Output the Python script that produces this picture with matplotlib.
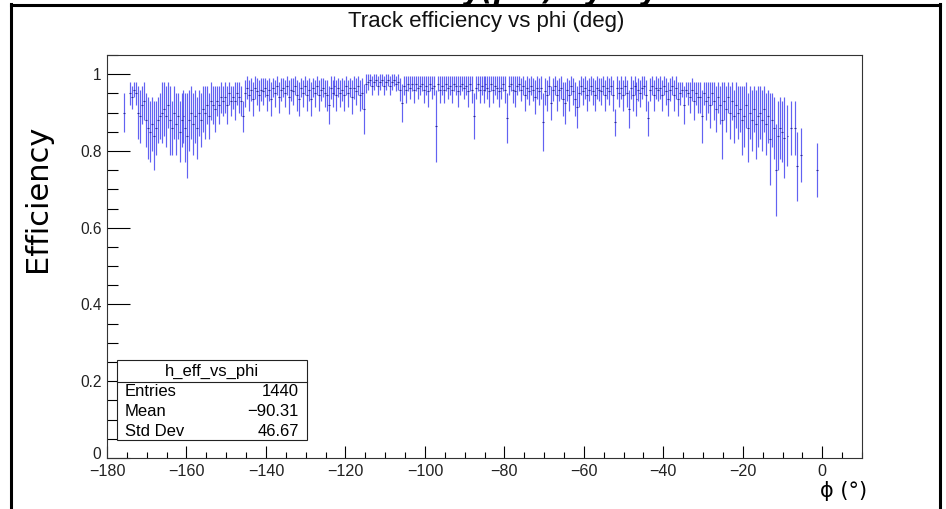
import numpy as np
import matplotlib
matplotlib.use("Agg")
import matplotlib.pyplot as plt
import matplotlib.transforms as mtransforms
from matplotlib.ticker import MultipleLocator, FixedLocator, FixedFormatter
from matplotlib.lines import Line2D
from matplotlib.patches import Rectangle

nan = np.nan

# ---- histogram definition (0.5 deg bins starting at -176 deg) ----
bin_start = -176.0
bin_width = 0.5

# efficiency per bin (percent) and its error (percent)
eff_pct = [
    90, nan, nan, 95, 94, 96, 95, 90, 89, 92,
    93, 88, 86, 85, 87, 84, 86, 88, 89, 90,
    91, 89, 92, 88, 86, 90, 87, 89, 85, 88,
    89, 86, 84, 88, 90, 87, 89, 86, 90, 88,
    91, 90, 92, 89, 93, 92, 91, 93, 92, 94,
    93, 94, 92, 95, 93, 94, 93, 95, 94, 93,
    89, 95, 96.5, 94.5, 96, 93.5, 96.5, 95.5, 94.5, 96,
    95.5, 96.5, 94.5, 96, 93.5, 96.5, 95, 97, 94, 96,
    96.5, 95, 97, 94, 96, 95.5, 97, 94.5, 93.5, 96.5,
    95, 97, 94.5, 96, 93.5, 96.5, 95, 97, 94.5, 96,
    96.5, 95, 94.5, 92, 96.5, 95, 97, 94.5, 96.5, 95,
    96, 94.5, 97, 95, 96.5, 94, 96.5, 95.5, 97, 94.5,
    95, 91, 97.5, 98, 98.5, 97, 98, 98.5, 97, 98,
    98.5, 97, 98, 98.5, 97, 98, 98.5, 97.5, 98, 96,
    92.5, 97, 96, 97.5, 96.5, 97.5, 96, 97.5, 96.5, 97,
    97.5, 96, 97, 95.5, 97.5, 96.5, 97, 86.5, 97.5, 96,
    97, 96, 97.5, 96.5, 97, 96, 97.5, 97, 95.5, 97,
    97.5, 96.5, 97, 95.5, 97.5, 96, 89, 96.5, 97.5, 96,
    97, 96, 97.5, 96.5, 95.5, 97.5, 96, 97, 96.5, 95.5,
    96.5, 97.5, 96, 88.5, 97, 97.5, 96, 95.5, 97, 97.5,
    96, 97, 94.5, 96.5, 95.5, 97, 96, 94, 96.5, 95.5,
    96.5, 87.5, 95.5, 94.5, 97, 92.5, 96, 97, 94.5, 96,
    96.5, 93.5, 92.5, 96, 94.5, 97, 95.5, 93.5, 91.5, 95,
    97, 95.5, 96.5, 94.5, 96, 97, 95.5, 94.5, 96.5, 96,
    95.5, 97, 94.5, 96.5, 95.5, 97, 94.5, 87.5, 96.5, 95,
    96.5, 94.5, 97, 95, 91, 96.5, 94.5, 97, 93.5, 96,
    95, 96.5, 97, 94.5, 88.5, 96, 97, 94.5, 96.5, 96,
    96.5, 94.5, 97, 95.5, 93.5, 96, 97, 94.5, 96.5, 93.5,
    95, 96, 92, 96, 95, 94, 96, 93, 95, 94,
    94, 89, 95, 93, 94, 92, 95, 93, 91, 94,
    92, 88, 93, 91, 94, 90, 93, 89, 92, 90,
    91, 88, 89, 92, 86, 90, 88, 91, 87, 89,
    90, 88, 91, 87, 89, 83, 88, 86, 75, 84,
    86, 85, 83.5, nan, 84, nan, 86, nan, 86, 76,
    nan, 79, nan, nan, nan, nan, nan, nan, nan, 75,
]
err_pct = [
    5, 0, 0, 3, 3, 2, 3, 7, 7, 5,
    5, 7, 8, 8, 7, 9, 7, 6, 6, 8,
    7, 8, 6, 9, 7, 7, 8, 6, 8, 7,
    7, 9, 11, 8, 7, 8, 7, 8, 6, 7,
    6, 7, 5, 6, 5, 5, 6, 4, 5, 4,
    4, 4, 5, 3, 4, 3, 5, 3, 4, 4,
    4, 3.5, 3, 4, 3, 4.5, 3, 3.5, 4, 3,
    3.5, 2.5, 4, 3, 4.5, 2.5, 3.5, 2.5, 4, 3,
    2.5, 3.5, 2.5, 4.5, 3, 3.5, 2.5, 4, 4.5, 2.5,
    3.5, 2.5, 4, 3, 4.5, 2.5, 3.5, 2.5, 4, 3,
    2.5, 3.5, 4, 5, 3, 3.5, 2.5, 4, 2.5, 3.5,
    3, 4, 2.5, 3.5, 2.5, 4.5, 3, 3.5, 2.5, 4,
    4, 6.5, 2.5, 2, 1.5, 2.5, 2, 1.5, 2.5, 2,
    1.5, 2.5, 2, 1.5, 2.5, 2, 1.5, 2, 2, 3,
    5, 2.5, 3.5, 2, 3, 2, 3.5, 2, 3, 2.5,
    2, 3.5, 2.5, 4, 2, 3, 2.5, 9.5, 2, 3.5,
    2.5, 3.5, 2, 3, 2.5, 3.5, 2, 2.5, 4, 2.5,
    2, 3, 2.5, 4, 2, 3.5, 6, 3, 2, 3.5,
    2.5, 3.5, 2, 3, 4, 2, 3.5, 2.5, 3, 4,
    3, 2, 3.5, 6.5, 2.5, 2, 3.5, 4, 2.5, 2,
    3, 2.5, 4, 3, 3.5, 2.5, 3, 4.5, 3, 3.5,
    3, 7.5, 3.5, 4, 2.5, 4.5, 3, 2.5, 4, 3,
    3, 4.5, 5.5, 3, 4, 2.5, 3.5, 4.5, 5.5, 3.5,
    2.5, 3.5, 3, 4, 3, 2.5, 3.5, 4, 3, 3,
    3.5, 2.5, 4, 3, 3.5, 2.5, 4, 3.5, 3, 3.5,
    3, 4, 2.5, 3.5, 5, 3, 4, 2.5, 4.5, 3,
    3.5, 3, 2.5, 4, 4.5, 3, 2.5, 4, 3, 3,
    3, 4, 2.5, 3.5, 4.5, 3, 2.5, 4, 3, 4.5,
    3, 2, 5, 2, 3, 4, 3, 5, 3, 4,
    4, 7, 3, 5, 4, 6, 3, 5, 6, 4,
    5, 10, 5, 6, 4, 7, 5, 7, 6, 7,
    6, 9, 8, 6, 9, 7, 8, 6, 9, 8,
    7, 8, 6, 8, 7, 12, 7, 8, 12, 9,
    8, 8, 10.5, 0, 8, 0, 7, 0, 7, 9,
    0, 7, 0, 0, 0, 0, 0, 0, 0, 7,
]

x_range = (-180, 10)
y_range = (0, 1.05)
x_ticks = [-180, -160, -140, -120, -100, -80, -60, -40, -20, 0]
x_ticklabels = ["\u2212180", "\u2212160", "\u2212140", "\u2212120", "\u2212100",
                "\u221280", "\u221260", "\u221240", "\u221220", "0"]
y_ticks = [0, 0.2, 0.4, 0.6, 0.8, 1.0]
y_ticklabels = ["0", "0.2", "0.4", "0.6", "0.8", "1"]

title_text = "Track efficiency vs phi (deg)"
x_title = "\u03d5 (\u00b0)"
y_title = "Efficiency"
slide_title = "Efficiency(phi) by layer"
stats_name = "h_eff_vs_phi"
stats_labels = ["Entries", "Mean", "Std Dev"]
stats_values = ["1440", "\u221290.31", "46.67"]

# ---- figure ----
W, H = 946, 509
fig = plt.figure(figsize=(W / 100, H / 100), dpi=100)
fig.patch.set_facecolor("white")

def fx(px):
    return px / W

def fy(py):
    return 1 - py / H

ax = fig.add_axes([fx(107), fy(458), fx(862) - fx(107), fy(55) - fy(458)])

eff = np.array(eff_pct, dtype=float) / 100.0
err = np.array(err_pct, dtype=float) / 100.0
centers = bin_start + bin_width * (np.arange(len(eff)) + 0.5)
ok = ~np.isnan(eff)

ax.vlines(centers[ok], eff[ok] - err[ok], eff[ok] + err[ok],
          colors="#6262f2", lw=0.85)
ax.hlines(eff[ok], centers[ok] - bin_width / 2, centers[ok] + bin_width / 2,
          colors="#2c2c98", lw=0.8)

ax.set_xlim(*x_range)
ax.set_ylim(*y_range)

font_axis = "Liberation Sans"
ax.xaxis.set_major_locator(FixedLocator(x_ticks))
ax.xaxis.set_major_formatter(FixedFormatter(x_ticklabels))
ax.xaxis.set_minor_locator(MultipleLocator(5))
ax.yaxis.set_major_locator(FixedLocator(y_ticks))
ax.yaxis.set_major_formatter(FixedFormatter(y_ticklabels))
ax.yaxis.set_minor_locator(MultipleLocator(0.05))

ax.tick_params(axis="x", which="major", direction="in", length=8.7, width=0.8,
               pad=4.5, labelsize=11.6, top=False)
ax.tick_params(axis="x", which="minor", direction="in", length=4.3, width=0.8,
               top=False)
ax.tick_params(axis="y", which="major", direction="in", length=16.3, width=0.8,
               pad=4, labelsize=11.2, right=False)
ax.tick_params(axis="y", which="minor", direction="in", length=8.1, width=0.8,
               right=False)
for lab in ax.get_xticklabels() + ax.get_yticklabels():
    lab.set_fontfamily(font_axis)
    lab.set_color("#222222")
# the y "0" label sits a little above the x axis, as in the reference
ylabs = ax.get_yticklabels()
ylabs[0].set_transform(ylabs[0].get_transform() +
                       mtransforms.ScaledTranslation(0, 5 / 100, fig.dpi_scale_trans))
for sp in ax.spines.values():
    sp.set_linewidth(0.8)
    sp.set_color("#333333")

# titles
fig.text(fx(486), fy(21), title_text, ha="center", va="center",
         fontsize=16, family=font_axis, color="#111111")
fig.text(fx(38), fy(198), y_title, ha="center", va="center", rotation=90,
         fontsize=22, family="DejaVu Sans", color="black")
fig.text(fx(867), fy(491), x_title, ha="right", va="center",
         fontsize=15, family="DejaVu Sans", color="black")

# stats box
bx0, bx1, by0, by1, bmid = 117, 307, 360, 440, 382
fig.patches.append(Rectangle((fx(bx0), fy(by1)), fx(bx1) - fx(bx0), fy(by0) - fy(by1),
                             transform=fig.transFigure, facecolor="white",
                             edgecolor="#222222", lw=0.8, zorder=5))
fig.lines.append(Line2D([fx(bx0), fx(bx1)], [fy(bmid), fy(bmid)],
                        transform=fig.transFigure, color="#222222", lw=0.8, zorder=6))
fig.text(fx((bx0 + bx1) / 2), fy(371), stats_name, ha="center", va="center",
         fontsize=12, family=font_axis, zorder=7)
for i, (lab, val) in enumerate(zip(stats_labels, stats_values)):
    yy = fy(391 + i * 20.5)
    fig.text(fx(125), yy, lab, ha="left", va="center", fontsize=12,
             family=font_axis, zorder=7)
    fig.text(fx(299), yy, val, ha="right", va="center", fontsize=12,
             family=font_axis, zorder=7)

# slide frame (thick black border) and cut-off slide title
for xs, ys in [([11, 11], [4, 509]), ([11, 940], [5, 5]), ([940, 940], [4, 509])]:
    fig.lines.append(Line2D([fx(v) for v in xs], [fy(v) for v in ys],
                            transform=fig.transFigure, color="black", lw=2.2))
fig.text(fx(510), fy(0.5), slide_title, ha="center", va="baseline",
         fontsize=20, fontweight="bold", fontstyle="italic",
         family="DejaVu Sans", color="black")

fig.savefig("out.png", dpi=100)
